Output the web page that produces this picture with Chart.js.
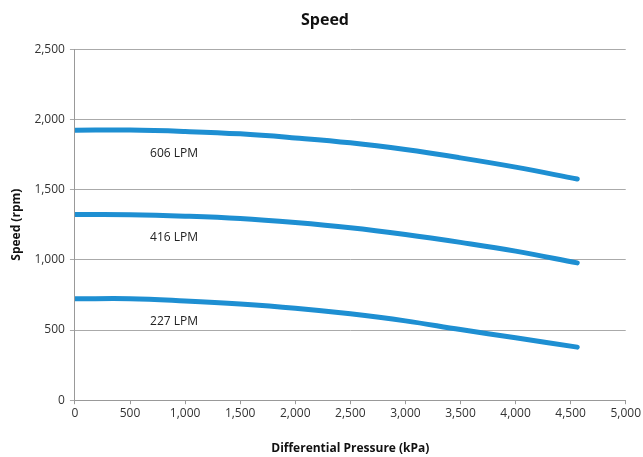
<!DOCTYPE html>
<html>
<head>
<meta charset="utf-8">
<script src="https://cdn.jsdelivr.net/npm/chart.js@4/dist/chart.umd.min.js"></script>
<style>
html,body{margin:0;padding:0;background:#fff;}
#wrap{width:643px;height:457px;}
</style>
</head>
<body>
<div id="wrap"><canvas id="c" width="643" height="457"></canvas></div>
<script>
const pressure = [0, 500, 1000, 1500, 2000, 2500, 3000, 3500, 4000, 4560];
const speed606 = [1923, 1924, 1914, 1897, 1868, 1833, 1785, 1726, 1660, 1575];
const speed416 = [1322, 1321, 1311, 1294, 1265, 1228, 1180, 1124, 1062, 978];
const speed227 = [722, 723, 707, 685, 655, 615, 565, 503, 445, 378];
const seriesNames = ['606 LPM', '416 LPM', '227 LPM'];
const labelX = [900, 900, 900];
const labelY = [1759, 1161, 558];

const toPts = arr => arr.map((v, i) => ({x: pressure[i], y: v}));
const lineColor = '#1e8fd2';

const labelPlugin = {
  id: 'seriesLabels',
  afterDatasetsDraw(chart) {
    const {ctx, scales} = chart;
    ctx.save();
    ctx.font = '12px "Open Sans", sans-serif';
    ctx.fillStyle = '#222';
    ctx.textAlign = 'center';
    ctx.textBaseline = 'middle';
    seriesNames.forEach((n, i) => {
      ctx.fillText(n, scales.x.getPixelForValue(labelX[i]), scales.y.getPixelForValue(labelY[i]));
    });
    ctx.restore();
  }
};

new Chart(document.getElementById('c'), {
  type: 'line',
  data: {
    datasets: [speed606, speed416, speed227].map((s, i) => ({
      label: seriesNames[i],
      data: toPts(s),
      borderColor: lineColor,
      borderWidth: 5,
      pointRadius: 0,
      fill: false,
      tension: 0.4,
      borderCapStyle: 'round'
    }))
  },
  options: {
    responsive: false,
    animation: false,
    layout: {padding: {left: 9, right: 2, top: 0, bottom: 0}},
    plugins: {
      legend: {display: false},
      tooltip: {enabled: false},
      title: {
        display: true,
        text: 'Speed',
        color: '#111',
        font: {family: '"Open Sans", sans-serif', size: 16, weight: 'bold'},
        padding: {top: 11, bottom: 19}
      }
    },
    scales: {
      x: {
        type: 'linear',
        min: 0, max: 5000,
        ticks: {stepSize: 500, color: '#333', font: {family: '"Open Sans", sans-serif', size: 12},
          callback: v => v.toLocaleString('en-US'), maxRotation: 0, padding: 2},
        grid: {drawOnChartArea: false, drawTicks: true, tickLength: 4, color: '#999'},
        border: {color: '#999'},
        title: {display: true, text: 'Differential Pressure (kPa)', color: '#111',
          font: {family: '"Open Sans", sans-serif', size: 12, weight: 'bold'}, padding: {top: 19, bottom: 1}}
      },
      y: {
        min: 0, max: 2500,
        ticks: {stepSize: 500, color: '#333', font: {family: '"Open Sans", sans-serif', size: 12},
          callback: v => v.toLocaleString('en-US'), padding: 5},
        grid: {color: '#aaa', tickLength: 5},
        border: {color: '#999'},
        title: {display: true, text: 'Speed (rpm)', color: '#111',
          font: {family: '"Open Sans", sans-serif', size: 12, weight: 'bold'}, padding: {top: 0, bottom: 6}}
      }
    }
  },
  plugins: [labelPlugin]
});
</script>
</body>
</html>
